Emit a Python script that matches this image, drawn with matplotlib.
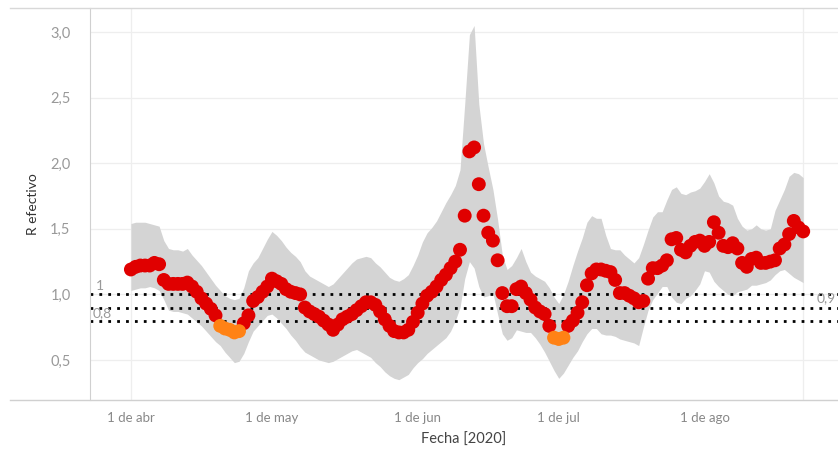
import numpy as np
import pandas as pd
import matplotlib
matplotlib.use("Agg")
import matplotlib.pyplot as plt

# R efectivo diario desde el 1 de abril de 2020
start = "2020-04-01"
r_values = [
    1.19, 1.21, 1.22, 1.22, 1.22, 1.24, 1.23, 1.11, 1.08, 1.08,
    1.08, 1.08, 1.09, 1.06, 1.02, 0.97, 0.93, 0.89, 0.84, 0.76,
    0.74, 0.73, 0.71, 0.72, 0.78, 0.84, 0.95, 0.98, 1.02, 1.06,
    1.12, 1.10, 1.08, 1.04, 1.02, 1.01, 1.00, 0.90, 0.87, 0.85,
    0.83, 0.80, 0.77, 0.73, 0.77, 0.81, 0.83, 0.85, 0.88, 0.91,
    0.94, 0.94, 0.92, 0.87, 0.81, 0.76, 0.72, 0.71, 0.71, 0.73,
    0.79, 0.86, 0.93, 0.99, 1.02, 1.06, 1.11, 1.15, 1.20, 1.25,
    1.34, 1.60, 2.09, 2.12, 1.84, 1.60, 1.47, 1.41, 1.26, 1.01,
    0.91, 0.91, 1.04, 1.06, 1.01, 0.96, 0.90, 0.87, 0.85, 0.76,
    0.67, 0.66, 0.67, 0.76, 0.80, 0.86, 0.94, 1.07, 1.16, 1.19,
    1.19, 1.18, 1.17, 1.11, 1.01, 1.01, 0.99, 0.97, 0.94, 0.95,
    1.12, 1.20, 1.20, 1.22, 1.26, 1.42, 1.43, 1.34, 1.32, 1.37,
    1.40, 1.41, 1.37, 1.40, 1.55, 1.47, 1.37, 1.36, 1.39, 1.35,
    1.24, 1.21, 1.27, 1.28, 1.24, 1.24, 1.25, 1.26, 1.35, 1.38,
    1.46, 1.56, 1.51, 1.48,
]
orange_days = [19, 20, 21, 22, 23, 90, 91, 92]

upper = [
    1.54, 1.55, 1.55, 1.55, 1.54, 1.53, 1.52, 1.41, 1.35, 1.34,
    1.34, 1.33, 1.35, 1.30, 1.26, 1.22, 1.17, 1.12, 1.07, 1.03,
    0.99, 0.97, 0.96, 0.97, 1.05, 1.18, 1.24, 1.28, 1.35, 1.42,
    1.48, 1.45, 1.41, 1.36, 1.32, 1.29, 1.25, 1.18, 1.14, 1.12,
    1.10, 1.08, 1.06, 1.08, 1.12, 1.16, 1.20, 1.24, 1.27, 1.28,
    1.29, 1.28, 1.24, 1.21, 1.17, 1.13, 1.11, 1.10, 1.12, 1.15,
    1.22, 1.30, 1.40, 1.47, 1.51, 1.56, 1.63, 1.70, 1.76, 1.83,
    1.95, 2.45, 2.98, 3.05, 2.45, 2.15, 1.97, 1.80, 1.57, 1.30,
    1.19, 1.22, 1.28, 1.35, 1.25, 1.17, 1.14, 1.12, 1.10, 1.05,
    0.98, 0.93, 1.00, 1.10, 1.22, 1.33, 1.43, 1.55, 1.60, 1.58,
    1.58, 1.45, 1.35, 1.34, 1.34, 1.30, 1.27, 1.24, 1.28, 1.38,
    1.49, 1.59, 1.63, 1.63, 1.72, 1.80, 1.82, 1.77, 1.76, 1.78,
    1.79, 1.81, 1.86, 1.92, 1.85, 1.75, 1.71, 1.70, 1.68, 1.58,
    1.52, 1.49, 1.50, 1.53, 1.50, 1.49, 1.50, 1.64, 1.72, 1.80,
    1.90, 1.93, 1.92, 1.89,
]
lower = [
    1.03, 1.04, 1.05, 1.05, 1.06, 1.05, 1.03, 0.96, 0.88, 0.87,
    0.87, 0.86, 0.85, 0.82, 0.79, 0.76, 0.72, 0.68, 0.64, 0.61,
    0.56, 0.52, 0.48, 0.49, 0.55, 0.64, 0.72, 0.76, 0.80, 0.84,
    0.85, 0.82, 0.78, 0.74, 0.69, 0.65, 0.60, 0.56, 0.54, 0.52,
    0.50, 0.49, 0.48, 0.49, 0.51, 0.53, 0.55, 0.57, 0.58, 0.56,
    0.54, 0.52, 0.48, 0.45, 0.41, 0.38, 0.36, 0.35, 0.37, 0.39,
    0.44, 0.48, 0.51, 0.55, 0.58, 0.61, 0.64, 0.67, 0.72, 0.80,
    0.90, 1.12, 1.25, 1.20, 1.06, 0.98, 0.99, 1.01, 0.85, 0.70,
    0.65, 0.67, 0.73, 0.72, 0.71, 0.71, 0.67, 0.62, 0.56, 0.49,
    0.42, 0.36, 0.40, 0.46, 0.52, 0.57, 0.64, 0.70, 0.74, 0.74,
    0.70, 0.69, 0.69, 0.68, 0.66, 0.65, 0.64, 0.63, 0.61, 0.75,
    0.88, 0.96, 1.01, 1.06, 1.06, 0.98, 0.94, 0.93, 0.97, 0.99,
    1.03, 1.08, 1.18, 1.17, 1.10, 1.06, 1.03, 1.00, 0.99, 1.02,
    1.03, 1.04, 1.07, 1.07, 1.08, 1.09, 1.11, 1.15, 1.18, 1.19,
    1.16, 1.13, 1.11, 1.09,
]

ref_lines = [1.0, 0.9, 0.8]
yticks = [0.5, 1.0, 1.5, 2.0, 2.5, 3.0]
xtick_dates = ["2020-04-01", "2020-05-01", "2020-06-01", "2020-07-01", "2020-08-01"]
xtick_labels = ["1 de abr", "1 de may", "1 de jun", "1 de jul", "1 de ago"]

dates = pd.date_range(start, periods=len(r_values), freq="D")
r = np.array(r_values)
is_orange = np.isin(np.arange(len(r)), orange_days)

plt.rcParams['font.family'] = ['Lato', 'DejaVu Sans']

fig = plt.figure(figsize=(8.38, 4.57), dpi=100)
ax = fig.add_axes([90 / 838, 57 / 457, 748 / 838, 392 / 457])

ax.fill_between(dates, lower, upper, color="#d4d4d4", linewidth=0, zorder=1)

ax.scatter(dates[~is_orange], r[~is_orange], s=100, color="#e00000", edgecolors="none", zorder=3)
ax.scatter(dates[is_orange], r[is_orange], s=100, color="#ff8215", edgecolors="none", zorder=3)

for v in ref_lines:
    ax.axhline(v, color="black", linestyle=(0, (1, 2.2)), linewidth=2.0, zorder=2)

for v in yticks:
    ax.axhline(v, color="#eeeeee", linewidth=0.9, zorder=0)
ax.axvline(dates[0], color="#eeeeee", linewidth=0.9, zorder=0)
ax.axvline(dates[-1], color="#eeeeee", linewidth=0.9, zorder=0)

x0 = pd.Timestamp(start)
ax.set_xlim(x0 - pd.Timedelta(days=8.7), x0 + pd.Timedelta(days=150.4))
ax.set_ylim(0.195, 3.183)

ax.set_yticks(yticks)
ax.set_yticklabels([f"{v:.1f}".replace(".", ",") for v in yticks], color="#999999", fontsize=10.5)
ax.set_xticks(pd.to_datetime(xtick_dates))
ax.set_xticklabels(xtick_labels, color="#888888", fontsize=9.5)
ax.tick_params(axis="both", length=0)
ax.tick_params(axis="x", pad=9)
ax.tick_params(axis="y", pad=14)

for side in ["top", "right"]:
    ax.spines[side].set_visible(False)
ax.spines["left"].set_color("#d0d0d0")
ax.spines["bottom"].set_visible(False)

ax.set_ylabel("R efectivo", fontsize=10, color="#333333", labelpad=8)
ax.set_xlabel("Fecha [2020]", fontsize=10.5, color="#444444", labelpad=6)

ax.text(x0 - pd.Timedelta(days=7.5), 1.02, "1", color="#999999", fontsize=10, va="bottom", ha="left")
ax.text(x0 - pd.Timedelta(days=8.2), 0.86, "0,8", color="#999999", fontsize=10, va="center", ha="left")
ax.text(x0 + pd.Timedelta(days=145.8), 0.975, "0,9", color="#999999", fontsize=10, va="center", ha="left",
        clip_on=True)

# marco de la figura
fig.add_artist(plt.Line2D([10 / 838, 1], [1 - 8 / 457, 1 - 8 / 457], color="#d8d8d8", linewidth=1))
fig.add_artist(plt.Line2D([10 / 838, 1], [57 / 457, 57 / 457], color="#d0d0d0", linewidth=1))

fig.savefig("out.png", dpi=100)
